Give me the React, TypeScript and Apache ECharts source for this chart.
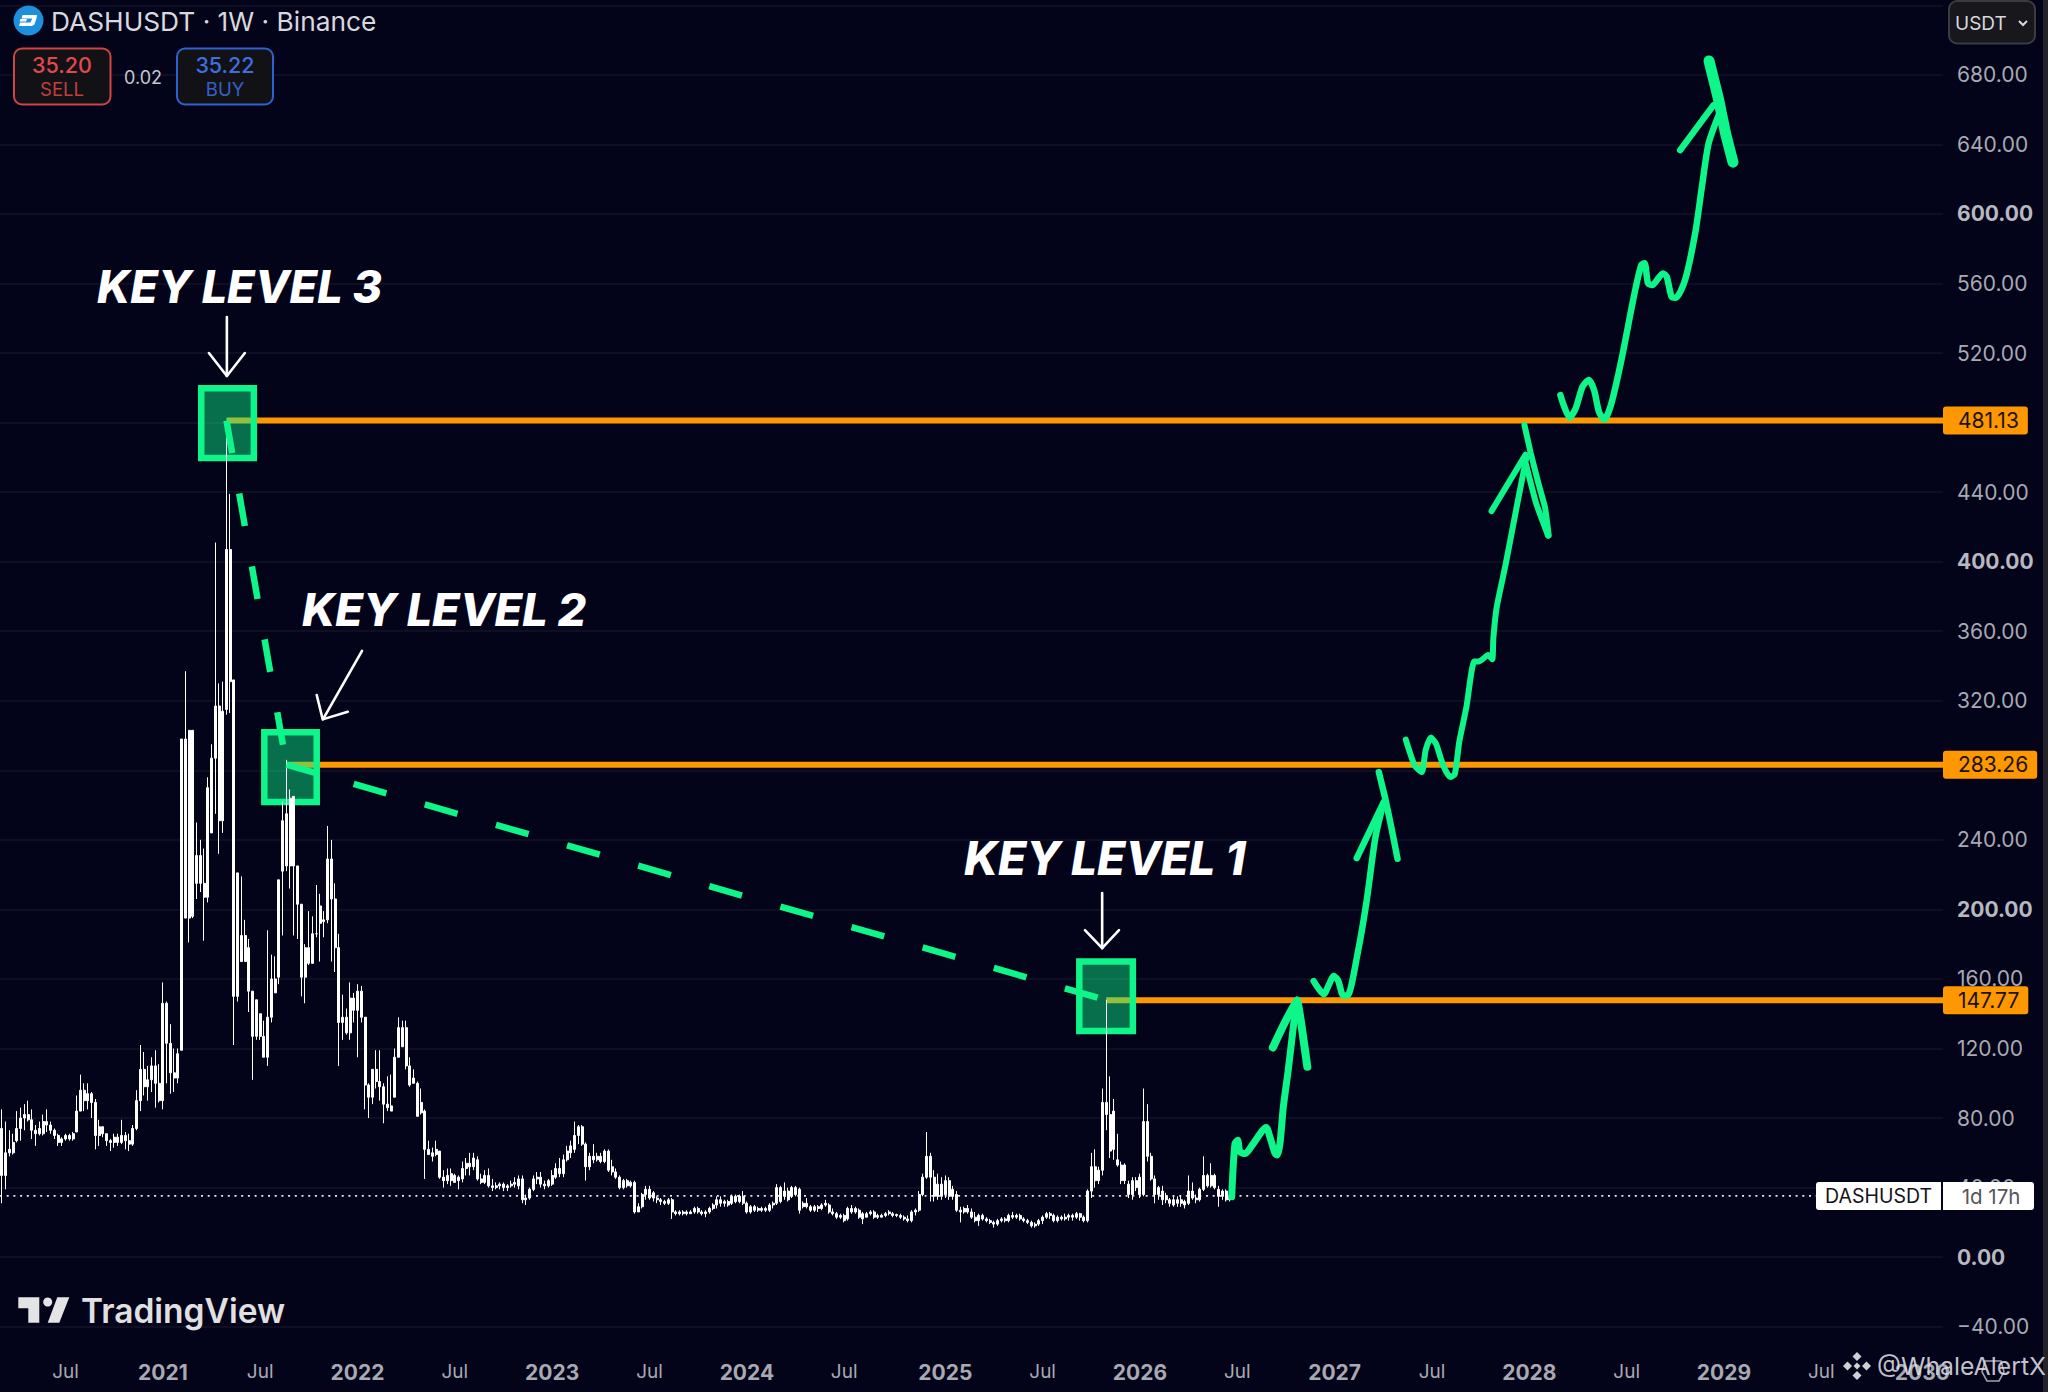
import React, { useEffect, useRef } from "react";
import * as echarts from "echarts";

const TOTAL_WEEKS = 519;
const FIRST_WEEK_UTC = Date.UTC(2020, 2, 9);
const LAST_PRICE = 35.2;
const PRICE_TICKS_BOLD = [0, 200, 400, 600];

// [open, close, low, high], one row per week
const weeklyCandles: number[][] = [
  [74,47,31,85],[47,60,39,78],[60,62,58,73],[60,66,59,71],[67,74,66,84],[74,80,67,86],[80,82,73,88],[82,79,78,90],[79,73,68,85],[73,71,64,76],
  [71,74,70,78],[71,78,70,82],[78,76,72,85],[76,73,71,78],[73,70,68,74],[70,66,64,71],[66,68,64,69],[68,70,67,71],[70,68,67,71],[68,71,67,72],
  [72,84,72,93],[84,96,85,105],[96,90,84,100],[90,94,85,100],[94,89,80,95],[89,70,62,91],[70,75,64,79],[75,71,69,75],[71,67,64,71],[67,66,61,68],
  [66,69,63,71],[69,66,64,71],[66,70,65,79],[70,67,62,72],[67,65,61,71],[65,74,64,76],[74,90,73,96],[90,108,84,122],[108,98,93,118],[98,102,90,110],
  [102,110,95,115],[110,100,86,119],[100,90,89,111],[90,146,85,158],[146,123,100,147],[123,106,94,134],[106,103,95,120],[103,117,100,120],[119,298,119,298],[298,195,195,337],
  [195,303,181,303],[303,196,195,236],[215,231,206,250],[231,215,210,240],[215,207,182,235],[207,270,204,276],[244,287,244,295],[287,317,255,411],[317,251,232,330],[251,314,244,331],
  [315,407,312,480],[407,331,313,439],[332,150,122,332],[150,221,147,221],[185,170,170,219],[170,185,170,194],[178,153,141,183],[153,127,102,153],[127,148,125,148],[140,127,125,140],
  [127,115,115,136],[115,138,110,188],[138,160,135,174],[160,152,152,173],[161,217,157,217],[222,251,185,262],[225,255,222,286],[225,264,212,269],[265,225,185,265],[225,203,183,220],
  [203,161,150,203],[161,178,146,180],[178,169,168,199],[169,186,175,196],[186,186,184,214],[202,192,170,209],[193,194,184,199],[194,229,192,248],[229,206,170,240],[206,178,164,215],
  [178,135,110,186],[135,138,125,151],[138,129,128,143],[129,149,125,158],[149,142,135,152],[142,153,115,157],[153,138,135,156],[138,99,85,137],[99,92,80,100],[92,108,88,108],
  [108,101,97,119],[101,98,90,119],[98,88,77,100],[88,86,84,104],[87,84,84,105],[92,115,92,120],[115,132,115,138],[132,121,121,136],[132,110,108,136],[110,99,98,115],
  [103,100,100,108],[100,81,81,101],[89,83,82,97],[84,62,45,85],[62,59,59,67],[60,58,55,63],[59,62,58,67],[61,46,45,61],[46,44,40,50],[47,44,42,51],
  [44,48,41,51],[47,43,43,48],[44,46,39,47],
  [45,51,43,55],[51,54,47,57],[54,52,47,60],[52,57,50,60],[56,45,44,58],[45,43,42,48],[43,47,42,50],[47,41,40,51],[41,40,38,45],[40,41,39,43],
  [41,42,39,43],[42,40,38,43],[40,41,38,42],[41,42,40,44],[42,43,40,46],[41,45,39,47],[45,33,31,47],[33,34,30,36],[34,39,33,40],[39,45,38,47],
  [45,46,42,49],[46,42,40,49],[42,41,39,44],[41,44,40,45],[42,47,41,50],[46,51,45,54],[51,48,46,57],[48,56,46,59],[56,61,55,64],[60,64,57,67],
  [62,70,60,78],[70,75,65,76],[75,65,64,76],[65,52,44,66],[52,58,50,60],[58,56,54,65],[56,58,55,60],[58,55,54,60],[55,61,54,62],[61,50,49,62],
  [52,49,47,56],[49,46,45,51],[46,40,39,47],[40,44,39,45],[44,41,40,45],[41,43,40,44],[43,26,25,44],[26,29,26,31],[29,36,28,37],[36,39,33,41],
  [39,34,33,41],[34,37,32,38],[34,33,31,35],[33,32,30,34],[32,31,30,33],[31,33,30,34],[33,26,22,34],[26,25,24,27],[25,26,24,27],[26,25,24,27],
  [25,26,24,27],[26,25,25,27],[26,28,25,29],[28,26,25,29],[26,25,24,27],[25,26,23,27],[26,28,25,29],[28,30,27,31],[30,33,28,35],[33,31,29,35],
  [31,32,29,33],[32,30,29,33],[31,35,30,36],[35,32,31,36],[32,35,31,36],[35,31,30,38],[31,26,25,32],[26,29,25,30],[29,27,26,30],[27,28,26,29],
  [28,27,26,29],[27,28,26,29],[27,30,26,31],[30,31,28,32],[31,40,30,42],[40,32,31,41],[35,38,33,43],[38,33,32,40],[35,40,34,41],[40,36,35,41],
  [39,27,25,40],[29,31,28,32],[31,29,28,34],[29,27,26,30],[27,29,26,30],[29,28,26,30],[28,30,27,31],[30,31,29,33],[30,26,25,31],[26,25,24,28],
  [25,23,22,26],[23,24,22,25],[24,21,20,25],[22,28,21,29],[28,26,25,30],[26,28,25,29],[27,23,22,28],[22,25,19,26],[25,23,23,26],[25,26,24,27],
  [26,23,22,27],[24,23,22,25],[23,24,23,25],[24,25,23,26],[25,26,24,27],[25,24,23,26],[24,24.5,23,25],
  [24,23,22,25],[23,22,21,24],[22,21,20,24],[21,26,20,27],[26,27,24,28],[27,36,26,38],[36,46,35,48],[46,58,45,72],[58,46,32,60],[46,35,32,50],
  [35,42,33,48],[42,35,33,46],[36,44,34,47],[44,35,33,46],[35,39,33,41],[36,27,26,38],[27,26,20,29],[26,28,25,29],[28,26,25,30],[26,23,22,28],
  [23,21,20,26],[21,24,18,25],[24,22,21,25],[22,21,20,23],[21,20,19,22],[20,19,17,21],[19,21,18,22],[21,22,20,23],[22,21,20,23],[21,24,20,25],
  [24,23,22,26],[23,24,22,25],[24,22,21,25],[22,21,20,23],[21,20,19,22],[20,18,17,21],[18,19,17,20],[19,21,18,22],[21,23,19,24],[23,25,22,26],
  [25,24,22,26],[24,21,20,25],[21,23,20,24],[23,22,21,24],[22,23,21,25],[23,24,21,25],[24,23,21,25],[23,25,22,26],[25,23,21,25.5],[23,21,20,24],
  [21,38,20,39],[38,52,34,60],[52,44,40,62],[44,50,42,52],[50,89,47,97],[89,82,73,148],[82,61,57,104],[62,84,56,91],[56,53,52,71],[53,44,42,55],
  [44,53,42,54],[42,36,34,44],[36,44,33,46],[44,40,38,46],[46,36,34,48],[36,78,35,97],[78,58,55,88],[58,45,44,60],[45,36,31,47],[36,40,33,41],
  [38,33,30,41],[33,35,31,37],[33,31,29,34],[30,33,29,35],[33,31,29,35],[31,33,29,35],[32,30,28,33],[31,38,30,47],[38,34,33,43],[34,33,31,36],
  [33,39,32,40],[39,47,38,58],[47,41,40,48],[41,47,40,54],[47,40,39,48],[39,35,29,41],[35,38,33,39],[38,33,32,39],[33,35.2,32,36],
];

// horizontal key levels: [price, week the drawing starts]
const keyLevels = [
  [481.13, 60.5],
  [283.26, 76.5],
  [147.77, 295.5],
];

// highlighted boxes: [week from, week to, price top, price bottom]
const keyBoxes = [
  [53.75, 67.8, 499.7, 459.7],
  [70.6, 84.6, 301.9, 261.8],
  [288.3, 302.6, 170.1, 130.1],
];

// dashed trend line through the highs
const trendLeg1 = [[60.5, 481.13], [76.5, 283.26]];
const trendLeg2 = [[76.5, 283.26], [295.5, 147.77]];

// hand-drawn projection: [week, price]
const projection1 = [[329,34.7],[329.4,51.9],[329.9,65.4],[330.6,67.3],[331.2,60.6],[332.6,59.6],[334.8,65.4],[338.2,74.6],[339.2,69.2],[340.6,59.6],[341.2,58.7],[341.9,65.4],[342.8,86.5],[344.1,107.6],[346.2,145.9]];
const projection2 = [[350.9,158.8],[353.6,151.3],[355,156.8],[356.2,161.7],[357.4,159.3],[358.8,150.5],[359.9,150.5],[362.6,174.3],[365,204.2],[367.4,241.6],[369.6,261.5]];
const projection3 = [[375.5,297.7],[377.9,282.7],[379.8,279],[380.8,291.5],[382.2,298.9],[383.6,295.2],[385.5,282.7],[387.4,276.1],[388.6,277.8],[389.8,296.5],[391.7,316.4],[393.8,342.6],[395.1,342.6],[397.5,346.3],[398.6,343.9],[398.9,356.3],[399.8,373.9],[402.2,398.7],[405.1,431.2],[407.7,459.8]];
const projection4 = [[416.8,495.8],[419.3,482.8],[420.9,488.3],[422.7,500.6],[424.4,504.5],[425.8,498.7],[427.1,486.2],[428.5,481.8],[430.3,490.1],[433,515],[436.6,554.3],[438.4,570.6],[439.3,571.6],[440.2,560.1],[441.3,559.1],[444.2,565.8],[445.2,563.9],[446.5,552.4],[447.6,551.8],[450.1,562],[452.8,588.8],[454.6,615.6],[456.4,640.6],[459.1,656.9]];
const arrowHead1 = [[[340,120.6],[346.4,147.8],[347.7,132.5],[349.2,109.5]]];
const arrowHead2 = [[[362.4,229.5],[369.6,261.7]],[[368.3,279],[370,264],[371.7,246.6],[373.3,229.1]]];
const arrowHead3 = [[[398.4,429.1],[407.5,461.6]],[[407.2,478.6],[408.9,462.3],[410.8,446.1],[412.7,431.2],[413.7,415]],[[407.6,456.1],[410.3,433.7],[413.5,415]]];
const arrowHead4 = [[[448.8,636.7],[457.7,662.6]],[[456.5,688],[459.1,665.5],[460.9,646.5],[462.9,629.8]]];

// white pointer arrows
const pointers = [
  [[60.6,540.7],[60.6,506.8]],
  [[55.8,520],[60.6,506.8],[65.4,520]],
  [[96.7,348.7],[86.3,309.5]],
  [[84.6,323.3],[86.2,309.3],[92.9,313.7]],
  [[294.4,209.4],[294.4,177.7]],
  [[289.8,188.1],[294.4,177.7],[298.9,188.1]],
];

const keyLabels = [
  { text: "KEY LEVEL 3", x: 97, y: 286, size: 45 },
  { text: "KEY LEVEL 2", x: 302, y: 609, size: 45 },
  { text: "KEY LEVEL 1", x: 964, y: 858, size: 46 },
];

const BG = "#03031a";
const GREEN = "#0ef58a";
const ORANGE = "#ff9800";
const AXIS_TEXT = "#a9a9b2";
const UI_FONT = "Inter, 'Noto Sans', sans-serif";

const weekLabels: string[] = [];
const weekDates: string[] = [];
for (let i = 0; i < TOTAL_WEEKS; i++) {
  const d = new Date(FIRST_WEEK_UTC + i * 7 * 86400000);
  const prev = new Date(FIRST_WEEK_UTC + (i - 1) * 7 * 86400000);
  weekDates.push(d.toISOString().slice(0, 10));
  const m = d.getUTCMonth();
  if (m !== prev.getUTCMonth() && m === 0) weekLabels.push("{y|" + d.getUTCFullYear() + "}");
  else if (m !== prev.getUTCMonth() && m === 6) weekLabels.push("{m|Jul}");
  else weekLabels.push("");
}

function strokeSeries(name: string, pts: number[][], width: number, color: string, smooth: number, z: number) {
  return {
    name,
    type: "line",
    xAxisIndex: 1,
    yAxisIndex: 0,
    data: pts,
    symbol: "none",
    smooth,
    silent: true,
    z,
    lineStyle: { color, width, cap: "round", join: "round" },
  };
}

function App() {
  const ref = useRef<HTMLDivElement | null>(null);
  useEffect(() => {
    document.body.style.margin = "0";
    document.body.style.background = BG;
    if (!ref.current) return;
    const chart = echarts.init(ref.current, undefined, { renderer: "svg" });

    const levelSeries = keyLevels.map(([price, start]) => ({
      name: "level " + price,
      type: "line",
      xAxisIndex: 1,
      yAxisIndex: 0,
      data: [[start, price], [TOTAL_WEEKS, price]],
      symbol: "none",
      silent: true,
      z: 1,
      lineStyle: { color: ORANGE, width: 6 },
      endLabel: {
        show: true,
        distance: 0,
        formatter: price.toFixed(2),
        color: "#1b1206",
        fontFamily: UI_FONT,
        fontSize: 21,
        lineHeight: 20,
        backgroundColor: ORANGE,
        borderRadius: 3,
        padding: [4, 9, 4, 15],
      },
    }));

    const greens: any[] = [
      strokeSeries("projection 1", projection1, 7, GREEN, 0.25, 6),
      strokeSeries("projection 2", projection2, 6.5, GREEN, 0.25, 6),
      strokeSeries("projection 3", projection3, 6, GREEN, 0.2, 6),
      strokeSeries("projection 4", projection4, 6.5, GREEN, 0.25, 6),
    ];
    arrowHead1.forEach((p, i) => greens.push(strokeSeries("head1-" + i, p, 8, GREEN, 0.1, 6)));
    arrowHead2.forEach((p, i) => greens.push(strokeSeries("head2-" + i, p, 6.5, GREEN, 0.1, 6)));
    arrowHead3.forEach((p, i) => greens.push(strokeSeries("head3-" + i, p, 6, GREEN, 0.1, 6)));
    arrowHead4.forEach((p, i) => greens.push(strokeSeries("head4-" + i, p, i === 1 ? 11 : 6.5, GREEN, 0.1, 6)));

    const option: any = {
      animation: false,
      backgroundColor: BG,
      grid: { left: 0, top: 5.3, width: 1943, height: 1321.4, containLabel: false, outerBoundsMode: "none" },
      xAxis: [
        {
          type: "category",
          data: weekDates,
          boundaryGap: true,
          axisLine: { show: false },
          axisTick: { show: false },
          splitLine: { show: false },
          axisLabel: {
            interval: (i: number) => weekLabels[i] !== "",
            margin: 35,
            hideOverlap: false,
            formatter: (_: string, i: number) => weekLabels[i],
            rich: {
              y: { fontFamily: UI_FONT, fontSize: 21, fontWeight: 700, color: AXIS_TEXT },
              m: { fontFamily: UI_FONT, fontSize: 19, color: AXIS_TEXT },
            },
          },
        },
        { type: "value", min: 0, max: TOTAL_WEEKS, show: false, splitLine: { show: false } },
      ],
      yAxis: {
        type: "value",
        position: "right",
        min: -40,
        max: 720,
        interval: 40,
        scale: false,
        axisLine: { show: false },
        axisTick: { show: false },
        splitLine: { show: true, lineStyle: { color: "#141428", width: 1.5 } },
        axisLabel: {
          align: "left",
          margin: 14,
          formatter: (v: number) => {
            if (v === 720) return "";
            const s = (v < 0 ? "\u2212" + Math.abs(v).toFixed(2) : v.toFixed(2));
            return PRICE_TICKS_BOLD.includes(v) ? "{b|" + s + "}" : "{n|" + s + "}";
          },
          rich: {
            n: { fontFamily: UI_FONT, fontSize: 21, color: AXIS_TEXT },
            b: { fontFamily: UI_FONT, fontSize: 21, fontWeight: 700, color: "#b8b8c0" },
          },
        },
      },
      series: [
        ...levelSeries,
        {
          name: "key boxes",
          type: "custom",
          xAxisIndex: 1,
          yAxisIndex: 0,
          data: keyBoxes,
          silent: true,
          clip: false,
          z: 2,
          encode: { x: [0, 1], y: [2, 3] },
          renderItem: (_: any, api: any) => {
            const a = api.coord([api.value(0), api.value(2)]);
            const b = api.coord([api.value(1), api.value(3)]);
            return {
              type: "rect",
              shape: { x: a[0], y: a[1], width: b[0] - a[0], height: b[1] - a[1] },
              style: { fill: "rgba(14,245,138,0.45)", stroke: GREEN, lineWidth: 6.5 },
            };
          },
        },
        {
          name: "last price",
          type: "line",
          xAxisIndex: 1,
          yAxisIndex: 0,
          data: [[0, LAST_PRICE], [TOTAL_WEEKS, LAST_PRICE]],
          symbol: "none",
          silent: true,
          z: 2,
          lineStyle: { color: "#e8e8ee", width: 1.8, type: [2, 4.7] },
        },
        {
          name: "DASHUSDT",
          type: "candlestick",
          xAxisIndex: 0,
          yAxisIndex: 0,
          data: weeklyCandles,
          barWidth: 2.5,
          silent: true,
          z: 3,
          itemStyle: { color: "#ffffff", color0: "#ffffff", borderColor: "#ffffff", borderColor0: "#ffffff", borderWidth: 1 },
        },
        { ...strokeSeries("trend 1", trendLeg1, 6.5, GREEN, 0, 5), lineStyle: { color: GREEN, width: 6.5, type: [33, 41] } },
        { ...strokeSeries("trend 2", trendLeg2, 6.5, GREEN, 0, 5), lineStyle: { color: GREEN, width: 6.5, type: [34, 40], dashOffset: 4 } },
        ...greens,
        ...pointers.map((p, i) => strokeSeries("pointer " + i, p, 2.6, "#ffffff", 0, 6)),
      ],
      graphic: [
        { type: "circle", z: 50, shape: { cx: 28.5, cy: 20.5, r: 15 }, style: { fill: "#1c8fdd" } },
        { type: "polygon", z: 51, shape: { points: [[22.5,15],[37,15],[36.6,18],[34.4,24.5],[32,26],[19,26],[20,22.5],[30.5,22.5],[32.2,18.5],[21.6,18.5]] }, style: { fill: "#ffffff" } },
        { type: "polygon", z: 51, shape: { points: [[20.4,19],[27,19],[26,21.6],[19.6,21.6]] }, style: { fill: "#ffffff" } },
        { type: "text", z: 50, style: { x: 51, y: 21, text: "DASHUSDT \u00b7 1W \u00b7 Binance", fill: "#d8d9de", font: "400 26.3px " + UI_FONT, textVerticalAlign: "middle" } },

        { type: "rect", z: 50, shape: { x: 14, y: 48.5, width: 96.5, height: 56, r: 8 }, style: { fill: "#121216", stroke: "#cf4444", lineWidth: 2 } },
        { type: "text", z: 51, style: { x: 62, y: 65, text: "35.20", fill: "#e04a4a", font: "500 21.5px " + UI_FONT, textAlign: "center", textVerticalAlign: "middle" } },
        { type: "text", z: 51, style: { x: 62, y: 89, text: "SELL", fill: "#c43e3e", font: "400 18.5px " + UI_FONT, textAlign: "center", textVerticalAlign: "middle" } },
        { type: "text", z: 51, style: { x: 143, y: 77, text: "0.02", fill: "#c8c8d0", font: "400 18px " + UI_FONT, textAlign: "center", textVerticalAlign: "middle" } },
        { type: "rect", z: 50, shape: { x: 177, y: 48.5, width: 96, height: 56, r: 8 }, style: { fill: "#121216", stroke: "#2f62d0", lineWidth: 2 } },
        { type: "text", z: 51, style: { x: 225, y: 65, text: "35.22", fill: "#3c6fe0", font: "500 21.5px " + UI_FONT, textAlign: "center", textVerticalAlign: "middle" } },
        { type: "text", z: 51, style: { x: 225, y: 89, text: "BUY", fill: "#3560c8", font: "400 18.5px " + UI_FONT, textAlign: "center", textVerticalAlign: "middle" } },

        { type: "rect", z: 50, shape: { x: 1949, y: 1, width: 86, height: 42.5, r: 8 }, style: { fill: "#17171c", stroke: "#3b3b42", lineWidth: 2 } },
        { type: "text", z: 51, style: { x: 1955, y: 23, text: "USDT", fill: "#d8d8de", font: "400 19px " + UI_FONT, textVerticalAlign: "middle" } },
        { type: "polyline", z: 51, shape: { points: [[2019,21],[2023,25],[2027,21]] }, style: { fill: "none", stroke: "#d8d8de", lineWidth: 2 } },
        { type: "rect", z: 50, shape: { x: 2043, y: 0, width: 5, height: 1392 }, style: { fill: "#232329" } },

        { type: "rect", z: 50, shape: { x: 1816, y: 1182, width: 125, height: 28, r: [3, 0, 0, 3] }, style: { fill: "#ffffff" } },
        { type: "rect", z: 50, shape: { x: 1943, y: 1182, width: 91, height: 28, r: [0, 3, 3, 0] }, style: { fill: "#ffffff" } },
        { type: "text", z: 51, style: { x: 1878.5, y: 1196, text: "DASHUSDT", fill: "#131318", font: "400 19.5px " + UI_FONT, textAlign: "center", textVerticalAlign: "middle" } },
        { type: "text", z: 51, style: { x: 1991, y: 1196, text: "1d 17h", fill: "#55555c", font: "400 20.5px " + UI_FONT, textAlign: "center", textVerticalAlign: "middle" } },

        ...keyLabels.map((k) => ({ type: "text", z: 50, style: { x: k.x, y: k.y, text: k.text, fill: "#ffffff", font: "italic 800 " + k.size + "px " + UI_FONT, textVerticalAlign: "middle" } })),

        { type: "polygon", z: 50, shape: { points: [[18.3,1297.3],[39.3,1297.3],[39.3,1322.7],[28.3,1322.7],[28.3,1308.3],[18.3,1308.3]] }, style: { fill: "#e4e4e4" } },
        { type: "circle", z: 50, shape: { cx: 47.7, cy: 1302, r: 4.5 }, style: { fill: "#e4e4e4" } },
        { type: "polygon", z: 50, shape: { points: [[57.3,1297.3],[69.3,1297.3],[59.3,1322.7],[47.7,1322.7]] }, style: { fill: "#e4e4e4" } },
        { type: "text", z: 50, style: { x: 81, y: 1311, text: "TradingView", fill: "#e0e0e0", font: "600 33.5px " + UI_FONT, textVerticalAlign: "middle" } },

        ...[[1857,1366,3.5],[1857,1356.5,4.5],[1857,1375.5,4.5],[1847.5,1366,4.5],[1866.5,1366,4.5]].map(([x, y, r]) => ({
          type: "polygon", z: 52, shape: { points: [[x, y - r],[x + r, y],[x, y + r],[x - r, y]] }, style: { fill: "#cfcfd6" },
        })),
        { type: "polygon", z: 52, shape: { points: [[1985,1361],[2001,1361],[2004,1372],[1999,1381],[1987,1381],[1982,1372]] }, style: { fill: "none", stroke: "rgba(200,200,208,0.8)", lineWidth: 1.6 } },
        { type: "text", z: 53, style: { x: 1877, y: 1366, text: "@WhaleAlertX", fill: "rgba(222,222,228,0.88)", font: "400 24.8px " + UI_FONT, textVerticalAlign: "middle" } },
      ],
    };
    chart.setOption(option);
    return () => chart.dispose();
  }, []);
  return <div ref={ref} style={{ position: "fixed", left: 0, top: 0, width: 2048, height: 1392 }} />;
}

export default App;
